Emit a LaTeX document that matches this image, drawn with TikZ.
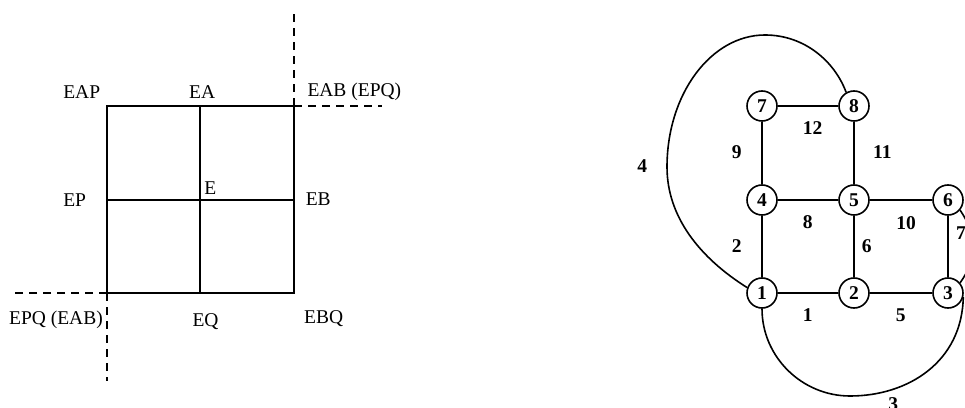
\documentclass[tikz,border=0pt]{standalone}
\usepackage{fontspec}
\setmainfont{Liberation Serif}
\begin{document}
\begin{tikzpicture}[x=1pt,y=1pt,
  line width=1.6pt,
  txt/.style={anchor=base west,inner sep=0pt,font=\fontsize{19.5}{22}\selectfont},
  vtx/.style={circle,draw,line width=1.6pt,minimum size=30pt,inner sep=0pt,
              font=\fontsize{19.5}{22}\selectfont\bfseries},
  elab/.style={inner sep=0pt,font=\fontsize{19.5}{22}\selectfont\bfseries},
  dsh/.style={line width=1.4pt,dash pattern=on 8pt off 6pt}]
\useasboundingbox (0,0) rectangle (965,407);
\clip (0,0) rectangle (965,407);

% ---- left panel: the square divided into four cells ----
\coordinate (sw) at (107,114);
\coordinate (se) at (294,114);
\coordinate (ne) at (294,301);
\coordinate (nw) at (107,301);
\coordinate (sm) at (200,114);
\coordinate (nm) at (200,301);
\coordinate (wm) at (107,207);
\coordinate (em) at (294,207);
\draw (sw) rectangle (ne);
\draw (sm) -- (nm);
\draw (wm) -- (em);

% dashed axes through two opposite corners
\coordinate (netop) at (294,395);
\coordinate (neright) at (382,301);
\coordinate (swleft) at (12,114);
\coordinate (swbot) at (107,26);
\draw[dsh] (ne) -- (netop);
\draw[dsh] (ne) -- (neright);
\draw[dsh] (sw) -- (swleft);
\draw[dsh] (sw) -- (swbot);

% corner, edge and centre labels
\node[txt] (lEAP) at (62.5,308.7) {EAP};
\node[txt] (lEA)  at (188.3,308.7) {EA};
\node[txt] (lEAB) at (306.7,310.5) {EAB (EPQ)};
\node[txt] (lEP)  at (62.5,200.5) {EP};
\node[txt] (lE)   at (203.5,212.7) {E};
\node[txt] (lEB)  at (305,201) {EB};
\node[txt] (lEPQ) at (8.3,83) {EPQ (EAB)};
\node[txt] (lEQ)  at (191.7,81) {EQ};
\node[txt] (lEBQ) at (303.3,84) {EBQ};

% ---- right panel: numbered graph ----
\node[vtx] (n7) at (762,301) {7};
\node[vtx] (n8) at (854,301) {8};
\node[vtx] (n4) at (762,207) {4};
\node[vtx] (n5) at (854,207) {5};
\node[vtx] (n6) at (948,207) {6};
\node[vtx] (n1) at (762,114) {1};
\node[vtx] (n2) at (854,114) {2};
\node[vtx] (n3) at (948,114) {3};

\draw (n7) -- (n8);
\draw (n7) -- (n4);
\draw (n8) -- (n5);
\draw (n4) -- (n5);
\draw (n5) -- (n6);
\draw (n4) -- (n1);
\draw (n5) -- (n2);
\draw (n6) -- (n3);
\draw (n1) -- (n2);
\draw (n2) -- (n3);

% outer edge 4: from 1 round the left and over the top to 8
\draw (n1.160) .. controls (700,149) and (667,190) .. (667,240)
               .. controls (667,313) and (711,372) .. (765,372)
               .. controls (805,372) and (835,345) .. (n8.120);
% outer edge 3: from 1 under the bottom row to 3
\draw (n1.south) .. controls (762,50) and (802,11) .. (850,11)
                 .. controls (908,11) and (962,45) .. (n3.-15);
% outer edge from 6 on the right side down to 3
\draw (n6.-40) .. controls (978,170) and (978,150) .. (n3.40);

% edge labels
\node[elab] (e12) at (812.7,279) {12};
\node[elab] (e9)  at (736.7,255.3) {9};
\node[elab] (e11) at (882.3,255.3) {11};
\node[elab] (e4)  at (642.3,241.3) {4};
\node[elab] (e8)  at (807.7,185.3) {8};
\node[elab] (e10) at (906,184.3) {10};
\node[elab] (e2)  at (736.7,161) {2};
\node[elab] (e6)  at (866.7,161) {6};
\node[elab] (e7)  at (961,174) {7};
\node[elab] (e1)  at (807.7,92) {1};
\node[elab] (e5)  at (900.7,92) {5};
\node[elab] (e3)  at (893.3,3) {3};
\end{tikzpicture}
\end{document}
